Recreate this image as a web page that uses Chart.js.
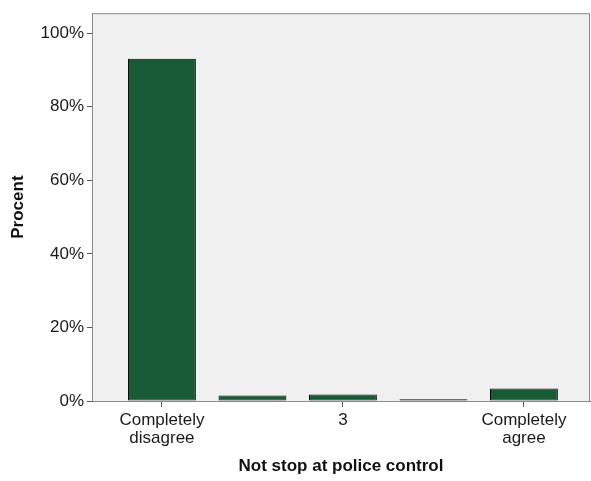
<!DOCTYPE html>
<html>
<head>
<meta charset="utf-8">
<script src="https://cdn.jsdelivr.net/npm/chart.js@4/dist/chart.umd.min.js"></script>
<style>
  html, body { margin: 0; padding: 0; background: #fff; }
  #wrap { width: 591px; height: 481px; }
</style>
</head>
<body>
<div id="wrap"><canvas id="chart"></canvas></div>
<script>
// ── Data ──────────────────────────────────────────────────────
const positions  = [1, 2, 3, 4, 5];
const percents   = [93.0, 1.5, 1.8, 0.5, 3.4];
const xTickVals  = [1, 3, 5];
const xTickText  = { 1: ['Completely', 'disagree'], 3: '3', 5: ['Completely', 'agree'] };
const yTickVals  = [0, 20, 40, 60, 80, 100];

const FONT = "Arial, 'Liberation Sans', sans-serif";
const AXIS = '#555';

// plot area background + frame
const plotFrame = {
  id: 'plotFrame',
  beforeDraw(chart) {
    const { ctx, chartArea: a } = chart;
    ctx.save();
    ctx.fillStyle = '#f0f0f0';
    ctx.fillRect(a.left, a.top, a.right - a.left, a.bottom - a.top);
    ctx.restore();
  },
  afterDraw(chart) {
    const { ctx, chartArea: a } = chart;
    ctx.save();
    ctx.strokeStyle = '#8a8a8a';
    ctx.lineWidth = 1;
    ctx.strokeRect(a.left + 0.5, a.top + 0.5, a.right - a.left - 1, a.bottom - a.top);
    ctx.restore();
  }
};

new Chart(document.getElementById('chart'), {
  type: 'bar',
  data: {
    datasets: [{
      data: positions.map((x, i) => ({ x, y: percents[i] })),
      backgroundColor: '#175a33',
      borderColor: '#0a0a0a',
      borderWidth: 1,
      borderSkipped: false,
      barPercentage: 0.75,
      categoryPercentage: 1,
    }],
  },
  options: {
    responsive: true, maintainAspectRatio: false, animation: false,
    layout: { padding: { top: 11, right: 1, left: 0, bottom: 0 } },
    plugins: { legend: { display: false }, tooltip: { enabled: false } },
    scales: {
      x: {
        type: 'linear', offset: false,
        min: 0.227, max: 5.73,
        afterBuildTicks: s => { s.ticks = xTickVals.map(v => ({ value: v })); },
        afterFit: s => { s.height = 80; },
        grid: { drawOnChartArea: false, offset: false, tickLength: 6, color: AXIS },
        border: { color: AXIS },
        ticks: {
          autoSkip: false, maxRotation: 0, padding: 4,
          color: '#1a1a1a', font: { family: FONT, size: 17, lineHeight: 1.08 },
          callback: v => xTickText[v] ?? '',
        },
        title: {
          display: true, text: 'Not stop at police control', color: '#111',
          font: { family: FONT, size: 17, weight: 'bold' }, padding: { top: 8 },
        },
      },
      y: {
        min: 0, max: 105.4,
        afterBuildTicks: s => { s.ticks = yTickVals.map(v => ({ value: v })); },
        afterFit: s => { s.width = 92; },
        grid: { drawOnChartArea: false, tickLength: 5, color: AXIS },
        border: { color: AXIS },
        ticks: {
          padding: 3, color: '#1a1a1a', font: { family: FONT, size: 17 },
          callback: v => v + '%',
        },
        title: {
          display: true, text: 'Procent', color: '#111',
          font: { family: FONT, size: 17, weight: 'bold' }, padding: { top: 8, bottom: 0 },
        },
      },
    },
  },
  plugins: [plotFrame],
});
</script>
</body>
</html>
